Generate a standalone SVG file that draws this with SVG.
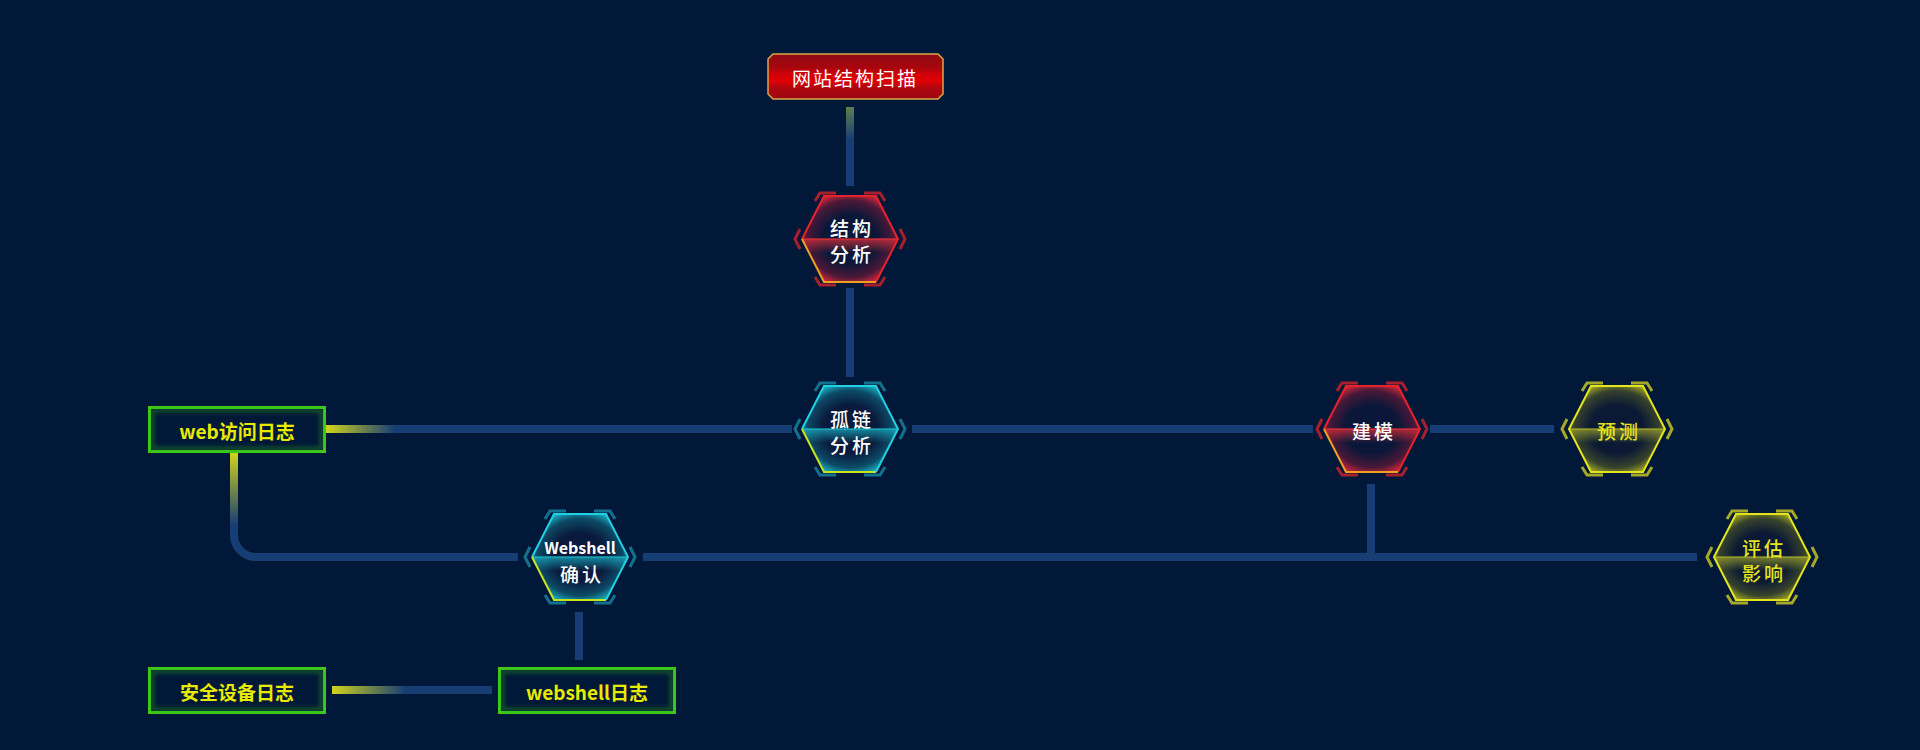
<svg xmlns="http://www.w3.org/2000/svg" width="1920" height="750" viewBox="0 0 1920 750">
<style>
.bg{fill:#011838}
.ln{fill:none;stroke:#173d75;stroke-width:8}
.t{font-family:"Noto Sans CJK SC","Noto Sans",sans-serif;text-anchor:middle;dominant-baseline:central}
.hw{fill:#ffffff;font-size:19px;font-weight:500;letter-spacing:3px}
.hy{fill:#e4e41c;font-size:19px;font-weight:500;letter-spacing:3px}
.bx{fill:#e8ea00;font-size:19px;font-weight:bold}
.br{fill:none;stroke:currentColor;stroke-width:3;stroke-linecap:butt;stroke-linejoin:miter}
.red{color:#a8202e}
.cyan{color:#12728e}
.yel{color:#a6a82a}
.edge{fill:none;stroke-width:2;stroke-linejoin:miter}
</style>
<defs>
<radialGradient id="gRed" cx="0.5" cy="0.5" r="0.56">
<stop offset="0.5" stop-color="#0b1738"/>
<stop offset="0.8" stop-color="#4a1838"/>
<stop offset="1" stop-color="#d8283a"/>
</radialGradient>
<radialGradient id="gCyan" cx="0.5" cy="0.5" r="0.56">
<stop offset="0.5" stop-color="#0a1a3c"/>
<stop offset="0.8" stop-color="#0c4a66"/>
<stop offset="1" stop-color="#1ab6c8"/>
</radialGradient>
<radialGradient id="gYel" cx="0.5" cy="0.5" r="0.56">
<stop offset="0.5" stop-color="#0b1934"/>
<stop offset="0.8" stop-color="#36422c"/>
<stop offset="1" stop-color="#a8ac24"/>
</radialGradient>
<linearGradient id="bRed" x1="0" y1="0" x2="0" y2="1">
<stop offset="0" stop-color="#e0303a" stop-opacity="0.75"/>
<stop offset="1" stop-color="#e0303a" stop-opacity="0"/>
</linearGradient>
<linearGradient id="bCyan" x1="0" y1="0" x2="0" y2="1">
<stop offset="0" stop-color="#1ab8c8" stop-opacity="0.7"/>
<stop offset="1" stop-color="#1ab8c8" stop-opacity="0"/>
</linearGradient>
<linearGradient id="bYel" x1="0" y1="0" x2="0" y2="1">
<stop offset="0" stop-color="#a8ac28" stop-opacity="0.7"/>
<stop offset="1" stop-color="#a8ac28" stop-opacity="0"/>
</linearGradient>
<linearGradient id="topRed" x1="0" y1="0" x2="0" y2="1">
<stop offset="0" stop-color="#8c0a12"/>
<stop offset="0.3" stop-color="#a8060e"/>
<stop offset="0.45" stop-color="#d00008"/>
<stop offset="0.6" stop-color="#e00006"/>
<stop offset="0.75" stop-color="#b0060e"/>
<stop offset="1" stop-color="#9a0a12"/>
</linearGradient>
<linearGradient id="l1" gradientUnits="userSpaceOnUse" x1="0" y1="107" x2="0" y2="140">
<stop offset="0" stop-color="#5e7e4e"/>
<stop offset="1" stop-color="#173d75"/>
</linearGradient>
<linearGradient id="l3" gradientUnits="userSpaceOnUse" x1="326" y1="0" x2="395" y2="0">
<stop offset="0" stop-color="#d2d41a"/>
<stop offset="1" stop-color="#173d75"/>
</linearGradient>
<linearGradient id="l6" gradientUnits="userSpaceOnUse" x1="0" y1="453" x2="0" y2="525">
<stop offset="0" stop-color="#d2d41a"/>
<stop offset="1" stop-color="#173d75"/>
</linearGradient>
<linearGradient id="l10" gradientUnits="userSpaceOnUse" x1="332" y1="0" x2="405" y2="0">
<stop offset="0" stop-color="#d2d41a"/>
<stop offset="1" stop-color="#173d75"/>
</linearGradient>
<polygon id="hex" points="-48,0 -26,-43 26,-43 48,0 26,43 -26,43"/>
<polygon id="band" points="-48,0 48,0 41,14 -41,14"/>
<g id="brk">
<polyline class="br" points="-35,-38 -30,-46 -14,-46"/>
<polyline class="br" points="35,-38 30,-46 14,-46"/>
<polyline class="br" points="-35,38 -30,46 -14,46"/>
<polyline class="br" points="35,38 30,46 14,46"/>
<polyline class="br" points="-50,-10 -55,0 -50,10"/>
<polyline class="br" points="50,-10 55,0 50,10"/>
</g>
<filter id="glow" x="-20%" y="-20%" width="140%" height="140%">
<feGaussianBlur stdDeviation="2"/>
</filter>
</defs>
<rect class="bg" x="0" y="0" width="1920" height="750"/>

<g id="connectors">
<line x1="850" y1="107" x2="850" y2="186" style="fill:none;stroke:url(#l1);stroke-width:8"/>
<line class="ln" x1="850" y1="288" x2="850" y2="377"/>
<line x1="326" y1="429" x2="792" y2="429" style="fill:none;stroke:url(#l3);stroke-width:8"/>
<line class="ln" x1="912" y1="429" x2="1313" y2="429"/>
<line class="ln" x1="1430" y1="429" x2="1554" y2="429"/>
<path d="M234,453 V535 A22,22 0 0 0 256,557 H518" style="fill:none;stroke:url(#l6);stroke-width:8"/>
<line class="ln" x1="643" y1="557" x2="1697" y2="557"/>
<line class="ln" x1="1371" y1="484" x2="1371" y2="557"/>
<line class="ln" x1="579" y1="612" x2="579" y2="660"/>
<line x1="332" y1="690" x2="492" y2="690" style="fill:none;stroke:url(#l10);stroke-width:8"/>
</g>

<g id="scan">
<path d="M773,54 H938 L943,59 V94 L938,99 H773 L768,94 V59 Z" fill="url(#topRed)" stroke="#d6a848" stroke-width="1.5"/>
<text class="t" x="855" y="77" style="fill:#fff;font-size:19px;letter-spacing:2px">网站结构扫描</text>
</g>

<g id="struct" class="red" transform="translate(850,239)">
<use href="#brk"/>
<use href="#hex" fill="url(#gRed)"/>
<use href="#band" fill="url(#bRed)"/>
<line x1="-48" y1="0" x2="48" y2="0" stroke="#e0303a" stroke-width="1.5" opacity="0.8"/>
<polyline class="edge" points="-48,0 -26,-43 26,-43 48,0 26,43" stroke="#e8222c"/>
<polyline class="edge" points="-48,0 -26,43 26,43" stroke="#f0a020"/>
<text class="t hw" x="2" y="-12">结构</text>
<text class="t hw" x="2" y="14">分析</text>
</g>

<g id="orphan" class="cyan" transform="translate(850,429)">
<use href="#brk"/>
<use href="#hex" fill="url(#gCyan)"/>
<use href="#band" fill="url(#bCyan)"/>
<line x1="-48" y1="0" x2="48" y2="0" stroke="#1ab8c8" stroke-width="1.5" opacity="0.8"/>
<polyline class="edge" points="-48,0 -26,-43 26,-43 48,0 26,43" stroke="#22d0e4"/>
<polyline class="edge" points="-48,0 -26,43 26,43" stroke="#c8e41c"/>
<text class="t hw" x="2" y="-11">孤链</text>
<text class="t hw" x="2" y="15">分析</text>
</g>

<g id="webshell" class="cyan" transform="translate(580,557)">
<use href="#brk"/>
<use href="#hex" fill="url(#gCyan)"/>
<use href="#band" fill="url(#bCyan)"/>
<line x1="-48" y1="0" x2="48" y2="0" stroke="#1ab8c8" stroke-width="1.5" opacity="0.8"/>
<polyline class="edge" points="-48,0 -26,-43 26,-43 48,0 26,43" stroke="#22d0e4"/>
<polyline class="edge" points="-48,0 -26,43 26,43" stroke="#c8e41c"/>
<text class="t" x="0" y="-10" style="fill:#fff;font-size:16px;font-weight:bold">Webshell</text>
<text class="t hw" x="2" y="16">确认</text>
</g>

<g id="model" class="red" transform="translate(1372,429)">
<use href="#brk"/>
<use href="#hex" fill="url(#gRed)"/>
<use href="#band" fill="url(#bRed)"/>
<line x1="-48" y1="0" x2="48" y2="0" stroke="#e0303a" stroke-width="1.5" opacity="0.8"/>
<polyline class="edge" points="-48,0 -26,-43 26,-43 48,0 26,43" stroke="#e8222c"/>
<polyline class="edge" points="-48,0 -26,43 26,43" stroke="#f0a020"/>
<text class="t hw" x="2" y="1">建模</text>
</g>

<g id="predict" class="yel" transform="translate(1617,429)">
<use href="#brk"/>
<use href="#hex" fill="url(#gYel)"/>
<use href="#band" fill="url(#bYel)"/>
<line x1="-48" y1="0" x2="48" y2="0" stroke="#a8ac28" stroke-width="1.5" opacity="0.8"/>
<use href="#hex" class="edge" stroke="#e4e41c"/>
<text class="t hy" x="2" y="1">预测</text>
</g>

<g id="impact" class="yel" transform="translate(1762,557)">
<use href="#brk"/>
<use href="#hex" fill="url(#gYel)"/>
<use href="#band" fill="url(#bYel)"/>
<line x1="-48" y1="0" x2="48" y2="0" stroke="#a8ac28" stroke-width="1.5" opacity="0.8"/>
<use href="#hex" class="edge" stroke="#e4e41c"/>
<text class="t hy" x="2" y="-10">评估</text>
<text class="t hy" x="2" y="15">影响</text>
</g>

<g id="weblog">
<rect x="149.5" y="407.5" width="175" height="44" fill="#011838" stroke="#40cc18" stroke-width="3"/>
<rect x="152.5" y="410.5" width="169" height="38" fill="none" stroke="#2c9a1a" stroke-width="3" opacity="0.6" filter="url(#glow)"/>
<text class="t bx" x="237" y="430">web访问日志</text>
</g>

<g id="seclog">
<rect x="149.5" y="668.5" width="175" height="44" fill="#011838" stroke="#40cc18" stroke-width="3"/>
<rect x="152.5" y="671.5" width="169" height="38" fill="none" stroke="#2c9a1a" stroke-width="3" opacity="0.6" filter="url(#glow)"/>
<text class="t bx" x="237" y="691">安全设备日志</text>
</g>

<g id="wslog">
<rect x="499.5" y="668.5" width="175" height="44" fill="#011838" stroke="#40cc18" stroke-width="3"/>
<rect x="502.5" y="671.5" width="169" height="38" fill="none" stroke="#2c9a1a" stroke-width="3" opacity="0.6" filter="url(#glow)"/>
<text class="t bx" x="587" y="691">webshell日志</text>
</g>
</svg>
